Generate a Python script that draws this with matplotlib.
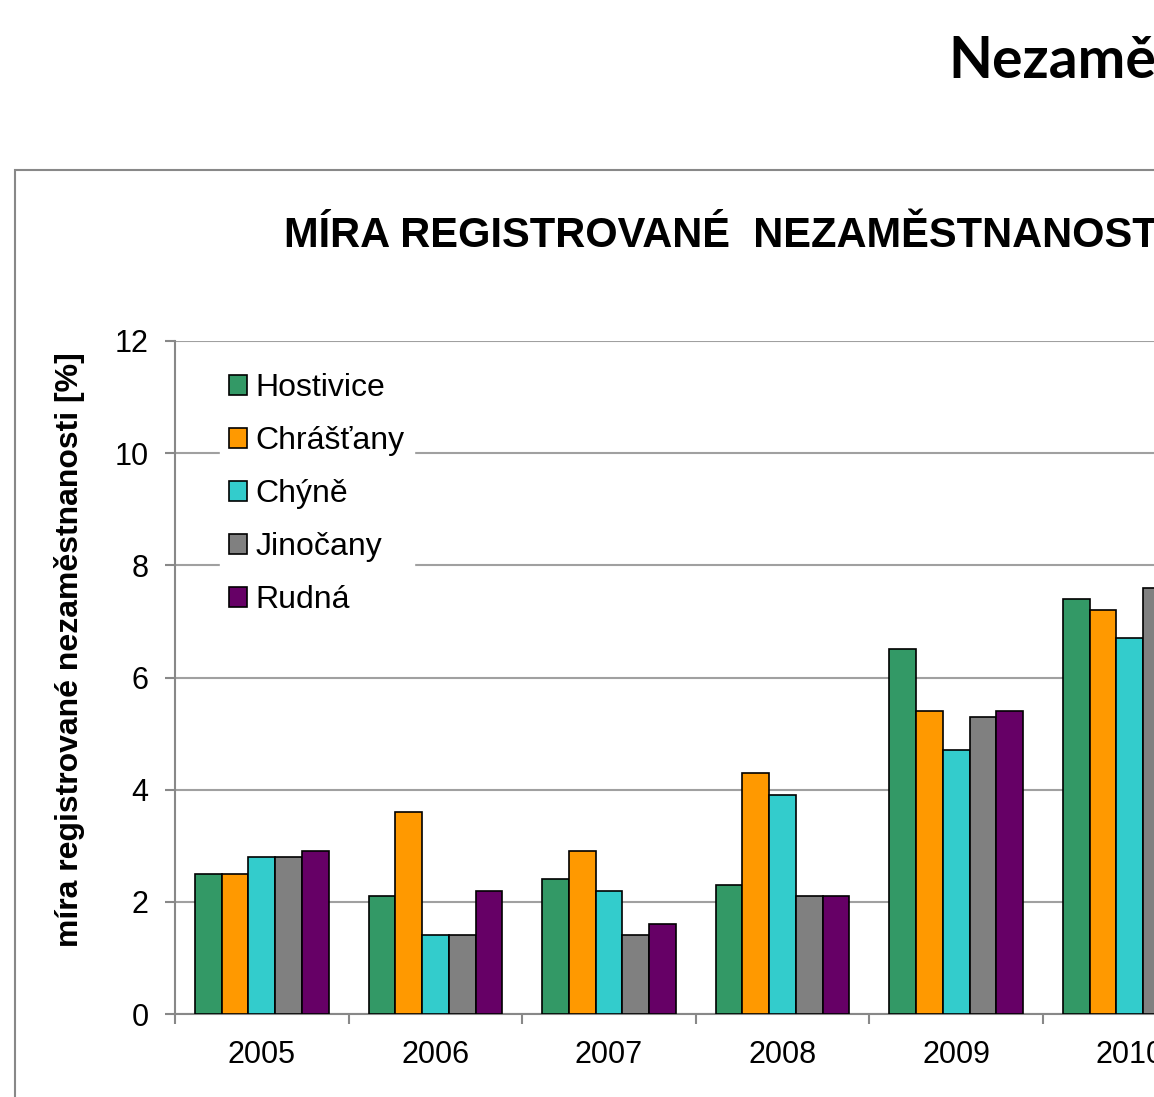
import matplotlib
matplotlib.use("Agg")
import matplotlib.pyplot as plt
import numpy as np
from matplotlib.patches import Patch, Rectangle

years = ["2005", "2006", "2007", "2008", "2009", "2010"]
obce = ["Hostivice", "Chrášťany", "Chýně", "Jinočany", "Rudná"]
hostivice = [2.5, 2.1, 2.4, 2.3, 6.5, 7.4]
chrastany = [2.5, 3.6, 2.9, 4.3, 5.4, 7.2]
chyne = [2.8, 1.4, 2.2, 3.9, 4.7, 6.7]
jinocany = [2.8, 1.4, 1.4, 2.1, 5.3, 7.6]
rudna = [2.9, 2.2, 1.6, 2.1, 5.4, 7.0]
series = [hostivice, chrastany, chyne, jinocany, rudna]
colors = ["#339966", "#FF9900", "#33CCCC", "#808080", "#660066"]

W, H = 1154, 1097
plt.rcParams["font.family"] = ["Liberation Sans", "DejaVu Sans"]
fig = plt.figure(figsize=(W / 100, H / 100), dpi=100)

# outer chart frame (runs off the right/bottom edge)
fig.patches.append(Rectangle((15 / W, -0.1), 2.0, 1 - 170 / H + 0.1,
                             transform=fig.transFigure, fill=False,
                             edgecolor="#888888", lw=1.5))

cat_px = 173.6
ncat = len(years)
ax = fig.add_axes([175 / W, 1 - 1014 / H, ncat * cat_px / W, (1014 - 341) / H])

x = np.arange(ncat)
bw = 0.154
for i, (vals, c) in enumerate(zip(series, colors)):
    ax.bar(x + (i - 2) * bw, vals, bw, color=c, edgecolor="black", lw=1.2,
           label=obce[i], zorder=3)

ax.set_xlim(-0.5, ncat - 0.5)
ax.set_ylim(0, 12)
ax.set_yticks(np.arange(0, 13, 2))
ax.yaxis.grid(True, color="#a0a0a0", lw=1.5, zorder=0)
ax.set_axisbelow(True)
for s in ["top", "right"]:
    ax.spines[s].set_visible(False)
for s in ["left", "bottom"]:
    ax.spines[s].set_color("#888888")
    ax.spines[s].set_linewidth(1.5)
ax.set_xticks(x)
ax.set_xticklabels(years)
ax.set_xticks(np.arange(-0.5, ncat, 1), minor=True)
ax.tick_params(axis="x", which="major", length=0, pad=19, labelsize=22)
ax.tick_params(axis="x", which="minor", length=7, width=1.5, color="#888888")
ax.tick_params(axis="y", length=7, width=1.5, color="#888888", pad=12, labelsize=22)

handles = [Patch(facecolor=c, edgecolor="black", lw=1.2) for c in colors]
leg = ax.legend(handles, obce, loc="upper left", bbox_to_anchor=(0.043, 0.966),
                frameon=True, fancybox=False, framealpha=1, edgecolor="white",
                fontsize=23, handlelength=0.56, handleheight=0.56,
                handletextpad=0.25, labelspacing=0.72, borderpad=0.3,
                borderaxespad=0)

fig.text(70 / W, 1 - 650 / H, "míra registrované nezaměstnanosti [%]",
         rotation=90, ha="center", va="center", fontsize=23, fontweight="bold")
fig.text(284 / W, 1 - 247 / H, "MÍRA REGISTROVANÉ  NEZAMĚSTNANOSTI",
         ha="left", va="baseline", fontsize=30, fontweight="bold")
fig.text(948 / W, 1 - 78 / H, "Nezaměstnanost", ha="left", va="baseline",
         fontsize=41, fontweight="bold", family=["Lato", "DejaVu Sans"])

fig.savefig("out.png", dpi=100)
